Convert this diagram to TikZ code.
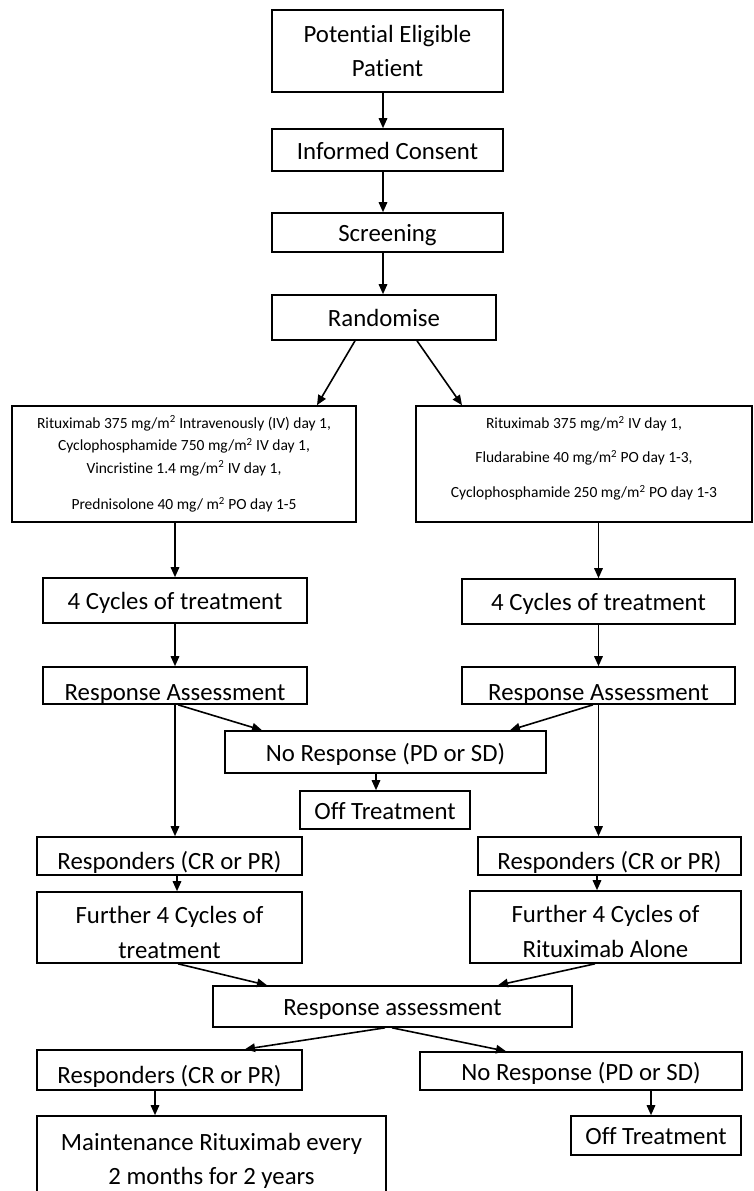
\documentclass[tikz,border=0pt]{standalone}
\usepackage{fontspec}
\setmainfont{Carlito}[Ligatures=NoCommon]
\usetikzlibrary{arrows.meta}
\newcommand\mainsz{\fontsize{24.8}{34}\selectfont}
\newcommand\mainszb{\fontsize{24.8}{35}\selectfont}
\newcommand\txsz{\fontsize{15.5}{22.5}\selectfont}
\newcommand\txszb{\fontsize{15.5}{34.5}\selectfont}
\newcommand\mvtext[2]{\raisebox{#1}[\height][\depth]{\begin{tabular}{@{}c@{}}#2\end{tabular}}}
\begin{document}
\begin{tikzpicture}[x=1pt,y=-1pt,
  box/.style={draw, line width=1.6pt, inner sep=0pt, font=\mainsz, align=center},
  sbox/.style={box, text height=18pt, text depth=0pt},
  cliptext/.style={font=\mainsz, anchor=base, inner sep=0pt},
  arr/.style={line width=1.6pt, -{Triangle[length=10pt,width=8.5pt]}}
]
\useasboundingbox (0,0) rectangle (753,1191);
\clip (0,0) rectangle (753,1191);
\fill[white] (0,0) rectangle (753,1191);

\node[box, minimum width=231, minimum height=82] (PEP) at (387.5,51) {Potential Eligible\\Patient};
\node[sbox, minimum width=231, minimum height=42] (IC) at (387.5,150) {Informed Consent};
\node[sbox, minimum width=231, minimum height=39] (SCR) at (387.5,232.5) {Screening};
\node[sbox, minimum width=224, minimum height=45] (RND) at (384,317.5) {Randomise};

\node[box, font=\txsz, minimum width=344, minimum height=116] (LTX) at (184,464)
  {Rituximab 375 mg/m\textsuperscript{2} Intravenously (IV) day 1,\\
   Cyclophosphamide 750 mg/m\textsuperscript{2} IV day 1,\\
   Vincristine 1.4 mg/m\textsuperscript{2} IV day 1,\\[14pt]
   Prednisolone 40 mg/ m\textsuperscript{2} PO day 1-5};
\node[box, font=\txszb, minimum width=336, minimum height=116] (RTX) at (584,464)
  {\mvtext{8pt}{Rituximab 375 mg/m\textsuperscript{2} IV day 1,\\
   Fludarabine 40 mg/m\textsuperscript{2} PO day 1-3,\\
   Cyclophosphamide 250 mg/m\textsuperscript{2} PO day 1-3}};

\node[sbox, minimum width=264, minimum height=45] (C1) at (175,600.5) {4 Cycles of treatment};
\node[sbox, minimum width=273, minimum height=45] (C2) at (598.5,601.5) {4 Cycles of treatment};

\node[box, minimum width=264, minimum height=37,
  path picture={\node[cliptext] at ([yshift=4pt]path picture bounding box.south) {Response Assessment};}]
  (RA1) at (175,685.5) {};
\node[box, minimum width=273, minimum height=37,
  path picture={\node[cliptext] at ([yshift=4pt]path picture bounding box.south) {Response Assessment};}]
  (RA2) at (598.5,685.5) {};

\node[sbox, minimum width=321, minimum height=42] (NR1) at (385.5,752) {No Response (PD or SD)};
\node[sbox, minimum width=170, minimum height=38] (OT1) at (385,810) {Off Treatment};

\node[box, minimum width=265, minimum height=38,
  path picture={\node[cliptext] at ([yshift=6pt]path picture bounding box.south) {Responders (CR or PR)};}]
  (Resp1) at (169.5,856) {};
\node[box, minimum width=263, minimum height=38,
  path picture={\node[cliptext] at ([yshift=6pt]path picture bounding box.south) {Responders (CR or PR)};}]
  (Resp2) at (609.5,856) {};

\node[box, font=\mainszb, minimum width=265, minimum height=71] (F1) at (169.5,927.5)
  {\mvtext{-6pt}{Further 4 Cycles of\\treatment}};
\node[box, font=\mainszb, minimum width=271, minimum height=72] (F2) at (605.5,927)
  {\mvtext{-6pt}{Further 4 Cycles of\\Rituximab Alone}};

\node[sbox, minimum width=359, minimum height=41] (RA3) at (392.5,1006.5) {Response assessment};

\node[box, minimum width=265, minimum height=40,
  path picture={\node[cliptext] at ([yshift=7pt]path picture bounding box.south) {Responders (CR or PR)};}]
  (Resp3) at (169.5,1070) {};
\node[sbox, minimum width=322, minimum height=38] (NR2) at (581,1071) {No Response (PD or SD)};

\node[box, minimum width=349, minimum height=90] (M) at (211.5,1161) {Maintenance Rituximab every\\2 months for 2 years};
\node[sbox, minimum width=170, minimum height=39] (OT2) at (656,1135.5) {Off Treatment};

\draw[arr] ([xshift=-4.5pt]PEP.south) -- ([xshift=-4.5pt]IC.north);
\draw[arr] ([xshift=-4.5pt]IC.south) -- ([xshift=-4.5pt]SCR.north);
\draw[arr] ([xshift=-4.5pt]SCR.south) -- ([xshift=-1pt]RND.north);
\draw[arr] ([xshift=-29pt]RND.south) -- ([xshift=133pt]LTX.north);
\draw[arr] ([xshift=33pt]RND.south) -- ([xshift=-122pt]RTX.north);
\draw[arr] (LTX.south -| C1.north) -- (C1.north);
\draw[arr] (RTX.south -| C2.north) -- (C2.north);
\draw[arr] (C1.south) -- (RA1.north);
\draw[arr] (C2.south) -- (RA2.north);
\draw[arr] ([xshift=3pt]RA1.south) -- ([xshift=-123.5pt]NR1.north);
\draw[arr] ([xshift=-5.5pt]RA2.south) -- ([xshift=124.5pt]NR1.north);
\draw[arr] ([xshift=-9.5pt]NR1.south) -- ([xshift=-9pt]OT1.north);
\draw[arr] (RA1.south) -- (RA1.south |- Resp1.north);
\draw[arr] (RA2.south) -- (RA2.south |- Resp2.north);
\draw[arr] ([xshift=7.5pt]Resp1.south) -- ([xshift=7.5pt]F1.north);
\draw[arr] ([xshift=-12.5pt]Resp2.south) -- ([xshift=-8.5pt]F2.north);
\draw[arr] ([xshift=8.5pt]F1.south) -- ([xshift=-125.5pt]RA3.north);
\draw[arr] ([xshift=-10.5pt]F2.south) -- ([xshift=105.5pt]RA3.north);
\draw[arr] ([xshift=-7.5pt]RA3.south) -- ([xshift=75.5pt]Resp3.north);
\draw[arr] ([xshift=-0.5pt]RA3.south) -- ([xshift=-75pt]NR2.north);
\draw[arr] ([xshift=-14.5pt]Resp3.south) -- ([xshift=-56.5pt]M.north);
\draw[arr] ([xshift=70pt]NR2.south) -- ([xshift=-5pt]OT2.north);
\end{tikzpicture}
\end{document}
